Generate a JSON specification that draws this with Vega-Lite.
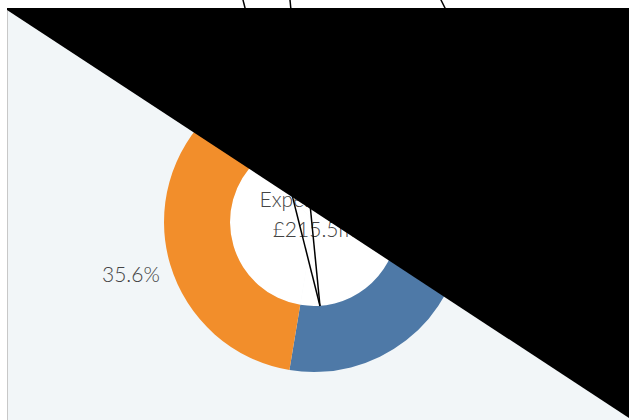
{
  "$schema": "https://vega.github.io/schema/vega-lite/v6.json",
  "width": 622,
  "height": 412,
  "autosize": {"type": "none"},
  "padding": {"left": 7, "top": 8, "right": 0, "bottom": 0},
  "background": "white",
  "config": {"view": {"fill": "#f2f6f8", "stroke": "#c8c8c8", "strokeWidth": 1}},
  "datasets": {
    "slices": [
      {"category": "Segment A", "value": 113.4, "label": "52.6%", "order": 1},
      {"category": "Segment B", "value": 76.7, "label": "35.6%", "order": 2},
      {"category": "Segment C", "value": 25.4, "label": "11.8%", "order": 3}
    ],
    "overlay": [
      {"px": 0, "top": 0, "bottom": 0.005},
      {"px": 1, "top": 0, "bottom": 0.995}
    ],
    "leaders": [
      {"x1": 0.5032, "y1": 0.7233, "x2": 0.3592, "y2": -0.1408},
      {"x1": 0.5032, "y1": 0.7233, "x2": 0.4471, "y2": -0.1408},
      {"x1": 0.762, "y1": 0.1748, "x2": 0.6576, "y2": -0.1408}
    ],
    "centre": [{"line1": "Expenditure", "line2": "£215.5m"}]
  },
  "layer": [
    {
      "data": {"name": "slices"},
      "mark": {"type": "arc", "radius": 84, "fill": "white", "stroke": null},
      "encoding": {
        "theta": {"field": "value", "type": "quantitative", "stack": true},
        "order": {"field": "order", "type": "quantitative"},
        "x": {"datum": 0.4936, "type": "quantitative", "scale": {"domain": [0, 1]}, "axis": null},
        "y": {"datum": 0.5194, "type": "quantitative", "scale": {"domain": [0, 1], "reverse": true}, "axis": null}
      }
    },
    {
      "data": {"name": "slices"},
      "mark": {"type": "arc", "radius": 150, "radius2": 84},
      "encoding": {
        "theta": {"field": "value", "type": "quantitative", "stack": true},
        "order": {"field": "order", "type": "quantitative"},
        "color": {
          "field": "category",
          "type": "nominal",
          "scale": {"domain": ["Segment A", "Segment B", "Segment C"], "range": ["#4e79a7", "#f28e2b", "#e15759"]},
          "legend": null
        },
        "x": {"datum": 0.4936, "type": "quantitative", "scale": {"domain": [0, 1]}, "axis": null},
        "y": {"datum": 0.5194, "type": "quantitative", "scale": {"domain": [0, 1], "reverse": true}, "axis": null}
      }
    },
    {
      "data": {"name": "slices"},
      "mark": {"type": "text", "radius": 191, "font": "Lato", "fontWeight": 300, "fontSize": 21, "fill": "#444444", "letterSpacing": 2.2},
      "encoding": {
        "theta": {"field": "value", "type": "quantitative", "stack": true},
        "order": {"field": "order", "type": "quantitative"},
        "text": {"field": "label"},
        "x": {"datum": 0.4936, "type": "quantitative", "scale": {"domain": [0, 1]}, "axis": null},
        "y": {"datum": 0.5194, "type": "quantitative", "scale": {"domain": [0, 1], "reverse": true}, "axis": null}
      }
    },
    {
      "data": {"name": "centre"},
      "mark": {"type": "text", "font": "Lato", "fontWeight": 300, "fontSize": 21, "fill": "#444444", "letterSpacing": 2.5, "baseline": "alphabetic", "dy": -15},
      "encoding": {
        "text": {"field": "line1"},
        "x": {"datum": 0.4936, "type": "quantitative", "scale": {"domain": [0, 1]}, "axis": null},
        "y": {"datum": 0.5194, "type": "quantitative", "scale": {"domain": [0, 1], "reverse": true}, "axis": null}
      }
    },
    {
      "data": {"name": "centre"},
      "mark": {"type": "text", "font": "Lato", "fontWeight": 300, "fontSize": 21, "fill": "#444444", "letterSpacing": 2.5, "baseline": "alphabetic", "dy": 15},
      "encoding": {
        "text": {"field": "line2"},
        "x": {"datum": 0.4936, "type": "quantitative", "scale": {"domain": [0, 1]}, "axis": null},
        "y": {"datum": 0.5194, "type": "quantitative", "scale": {"domain": [0, 1], "reverse": true}, "axis": null}
      }
    },
    {
      "data": {"name": "overlay"},
      "mark": {"type": "area", "color": "black", "opacity": 1},
      "encoding": {
        "x": {"field": "px", "type": "quantitative", "scale": {"domain": [0, 1]}, "axis": null},
        "y": {"field": "top", "type": "quantitative", "scale": {"domain": [0, 1], "reverse": true}, "axis": null},
        "y2": {"field": "bottom"}
      }
    },
    {
      "data": {"name": "leaders"},
      "mark": {"type": "rule", "color": "black", "strokeWidth": 1.5},
      "encoding": {
        "x": {"field": "x1", "type": "quantitative", "scale": {"domain": [0, 1]}, "axis": null},
        "y": {"field": "y1", "type": "quantitative", "scale": {"domain": [0, 1], "reverse": true}, "axis": null},
        "x2": {"field": "x2"},
        "y2": {"field": "y2"}
      }
    }
  ]
}
